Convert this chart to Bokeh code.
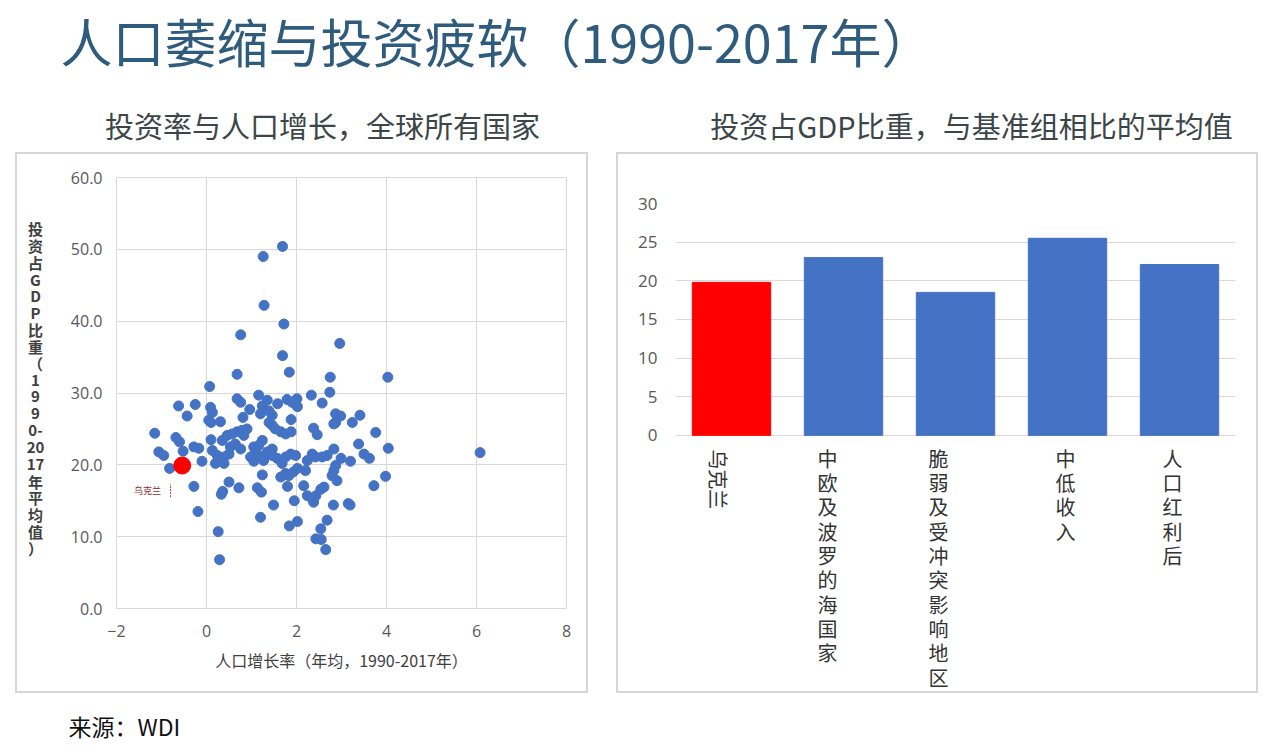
import math
from bokeh.plotting import figure
from bokeh.models import Range1d, FactorRange, FixedTicker, Spacer, ColumnDataSource
from bokeh.layouts import column, row
from bokeh.core.properties import value
from bokeh.embed import file_html
from bokeh.resources import INLINE

CJK = "Noto Sans CJK SC"
LAT = "Open Sans"

# ---------------- data ----------------
main_title = "人口萎缩与投资疲软（1990-2017年）"
left_title = "投资率与人口增长，全球所有国家"
right_title = "投资占GDP比重，与基准组相比的平均值"
source_note = "来源：WDI"

scatter_xlabel = "人口增长率（年均，1990-2017年）"
scatter_ylabel_lines = ["投", "资", "占", "G", "D", "P", "比", "重", "（", "1", "9", "9",
                        "0-", "20", "17", "年", "平", "均", "值", "）"]

# population growth (annual avg %, 1990-2017)
pop_growth = [
    1.69, 1.26, 1.28, 1.72, 0.76, 2.96, 1.69, 1.84, 0.68, 2.75, 4.03, 0.07, 2.74, 2.33, 1.16,
    -0.62, -0.25, -0.43, 0.09, 0.13, 0.05, 0.10, 0.31, 0.68, 0.76, 0.81, 0.96, 1.35, 1.24, 1.20,
    1.39, 1.46, 1.39, 1.46, 1.53, 1.58, 1.79, 1.90, 2.01, 2.02, 1.88, 1.65, 1.76, 1.88, 2.57,
    2.87, 2.98, 2.87, 2.83, 3.24, 3.41, 2.38, 2.46, 3.76,
    -1.15, -0.68, -0.60, -1.06, -0.95, -0.82, -0.52, -0.28, -0.17, -0.10, 0.10, 0.13, 0.24, 0.20,
    0.31, 0.39, 0.35, 0.46, 0.57, 0.68, 0.79, 0.90, 0.83, 0.64, 0.53, 0.50, 0.76, 0.39, 1.24,
    1.05, 1.16, 1.09, 0.98, 1.05, 1.16, 1.27, 1.35, 1.46, 1.46, 1.57, 1.68, 1.76, 1.87, 1.98,
    1.24, 0.50, 1.65, 1.76, -0.28, -0.19, 0.36, 0.33, 0.72, 0.26, 0.29, 1.13, 1.22, 1.49, 1.20,
    1.83, 1.93, 2.02, 1.80, 1.95, 1.84, 2.02, 2.20, 2.16, 2.24, 2.35, 2.43, 2.54, 2.61, 2.38,
    2.54, 2.68, 2.43, 2.55, 2.65, 2.82, 3.15, 3.19, 2.24, 2.35, 2.42, 2.57, 2.68, 2.83, 2.99,
    3.20, 2.87, 2.83, 2.79, 2.90, 3.38, 3.50, 3.62, 4.04, 3.98, 3.72, 6.08,
]
# investment share of GDP (1990-2017 avg %)
invest_share = [
    50.4, 49.0, 42.2, 39.6, 38.1, 36.9, 35.2, 32.9, 32.6, 32.2, 32.2, 30.9, 30.1, 29.7, 29.7,
    28.2, 28.4, 26.8, 28.0, 27.3, 26.2, 25.9, 26.0, 29.2, 28.7, 26.6, 27.7, 29.0, 28.2, 27.1,
    27.5, 26.9, 25.9, 25.5, 25.0, 28.5, 29.1, 28.7, 29.2, 28.1, 26.3, 24.6, 24.3, 24.6, 28.6,
    27.1, 26.8, 25.9, 25.7, 25.9, 26.9, 25.1, 24.2, 24.5,
    24.4, 23.8, 23.2, 21.8, 21.3, 19.5, 21.9, 22.5, 22.3, 20.5, 23.5, 22.0, 21.3, 20.2,
    20.6, 20.2, 23.4, 24.1, 24.3, 24.6, 24.8, 25.0, 24.1, 22.9, 22.5, 21.5, 22.2, 21.1, 23.4,
    22.5, 22.7, 21.8, 21.1, 20.5, 21.3, 20.6, 21.8, 22.2, 21.3, 20.9, 20.2, 21.1, 21.5, 21.3,
    18.6, 17.6, 18.3, 18.8, 17.0, 13.5, 16.3, 15.9, 16.8, 10.7, 6.8, 16.8, 16.2, 14.4, 12.7,
    18.5, 19.0, 19.5, 17.0, 15.0, 11.5, 12.1, 19.2, 17.1, 15.7, 15.3, 15.7, 16.6, 16.9, 14.8,
    11.1, 12.3, 9.7, 9.6, 8.2, 14.4, 14.6, 14.4, 20.6, 21.5, 21.1, 21.1, 21.3, 22.2, 20.9,
    20.5, 19.9, 19.2, 18.5, 17.8, 22.9, 21.5, 20.9, 22.3, 18.4, 17.1, 21.7,
]
ukraine_name = "乌克兰"
ukraine_growth = [-0.54]
ukraine_invest = [19.9]

scatter_x_ticks = [-2, 0, 2, 4, 6, 8]
scatter_y_ticks = [0, 10, 20, 30, 40, 50, 60]

bar_groups = ["乌克兰", "中欧及波罗的海国家", "脆弱及受冲突影响地区", "中低收入", "人口红利后"]
bar_values = [19.8, 23.0, 18.5, 25.5, 22.1]
bar_y_ticks = [0, 5, 10, 15, 20, 25, 30]

# ---------------- styles ----------------
BLUE = "#4472C4"
RED = "#FF0000"
GRID = "#d9d9d9"
TICK = "#595959"
BOX = {"outline": "2px solid #d6d6d6", "outline-offset": "-2px"}
label_dx = [-13, -16, -17, -2, -7]   # horizontal nudge of each category label (px)
LABEL_PITCH = 24.3
YLAB_PITCH = 16.84
H = 541


def blank(fig):
    fig.axis.visible = False
    fig.grid.visible = False
    fig.outline_line_color = None


# ---------------- header ----------------
hdr = figure(width=1270, height=152, x_range=Range1d(0, 1270), y_range=Range1d(152, 0),
             output_backend="svg", toolbar_location=None, min_border=0)
blank(hdr)
hdr.text(x=[60], y=[40], text=[main_title], text_font=value(CJK), text_font_size="52px",
         text_color="#2F5B7C", text_baseline="middle", text_align="left")
hdr.text(x=[322, 971], y=[124, 124], text=[left_title, right_title], text_font=value(CJK),
         text_font_size="29px", text_color="#3B4649", text_baseline="middle", text_align="center")

# ---------------- scatter: y-label strip ----------------
ylab = figure(width=43, height=H, x_range=Range1d(0, 43), y_range=Range1d(431, 0),
              output_backend="svg", toolbar_location=None,
              min_border_left=0, min_border_right=0, min_border_top=25, min_border_bottom=85)
blank(ylab)
ylab.border_fill_color = None
ylab.background_fill_color = None
ylab.text(x=[20] * len(scatter_ylabel_lines),
          y=[51 + YLAB_PITCH * k for k in range(len(scatter_ylabel_lines))],
          text=scatter_ylabel_lines, text_font=value(CJK), text_font_size="15px",
          text_font_style="bold", text_color="#404040", text_align="center",
          text_baseline="middle")

# ---------------- scatter ----------------
sc = figure(width=530, height=H, x_range=Range1d(-2, 8), y_range=Range1d(0, 60),
            output_backend="svg", toolbar_location=None,
            min_border_left=58, min_border_right=22, min_border_top=25, min_border_bottom=85)
sc.border_fill_color = None
sc.background_fill_color = None
sc.outline_line_color = GRID
sc.grid.grid_line_color = GRID
sc.xaxis.ticker = FixedTicker(ticks=scatter_x_ticks)
sc.yaxis.ticker = FixedTicker(ticks=scatter_y_ticks)
sc.yaxis.major_label_overrides = {t: f"{t:.1f}" for t in scatter_y_ticks}
for ax in (sc.xaxis, sc.yaxis):
    ax.axis_line_color = GRID
    ax.major_tick_line_color = None
    ax.minor_tick_line_color = None
    ax.major_tick_out = 0
    ax.major_tick_in = 0
    ax.major_label_text_font = LAT
    ax.major_label_text_font_size = "16px"
    ax.major_label_text_color = TICK
sc.yaxis.major_label_standoff = 14
sc.xaxis.major_label_standoff = 16
sc.xaxis.axis_label = scatter_xlabel
sc.xaxis.axis_label_text_font = CJK
sc.xaxis.axis_label_text_font_size = "16px"
sc.xaxis.axis_label_text_font_style = "normal"
sc.xaxis.axis_label_text_color = "#404040"
sc.xaxis.axis_label_standoff = 8

sc.scatter(pop_growth, invest_share, size=10, color=BLUE)
sc.scatter(ukraine_growth, ukraine_invest, size=17, color=RED)
sc.text(x=[ukraine_growth[0] - 0.77], y=[ukraine_invest[0] - 3.5], text=[ukraine_name],
        text_font=value(CJK), text_font_size="9px", text_color="#8B2A2A",
        text_align="center", text_baseline="middle")
sc.segment(x0=[ukraine_growth[0] - 0.26], x1=[ukraine_growth[0] - 0.26],
           y0=[ukraine_invest[0] - 4.4], y1=[ukraine_invest[0] - 2.6],
           line_color="#C04040", line_width=1, line_dash="2 1")

scatter_box = column(row(ylab, sc), styles=BOX)

# ---------------- bars ----------------
br = figure(width=642, height=H, x_range=FactorRange(factors=bar_groups), y_range=Range1d(-33.4, 30),
            output_backend="svg", toolbar_location=None,
            min_border_left=59, min_border_right=23, min_border_top=51, min_border_bottom=0)
br.border_fill_color = None
br.background_fill_color = None
br.outline_line_color = None
br.xaxis.visible = False
br.xgrid.visible = False
br.ygrid.grid_line_color = GRID
br.yaxis.ticker = FixedTicker(ticks=bar_y_ticks)
bar_colors = [RED if g == ukraine_name else BLUE for g in bar_groups]
br.vbar(x=bar_groups, top=bar_values, width=0.7, color=bar_colors)
br.yaxis.axis_line_color = None
br.yaxis.major_tick_line_color = None
br.yaxis.minor_tick_line_color = None
br.yaxis.major_tick_out = 0
br.yaxis.major_tick_in = 0
br.yaxis.major_label_text_font = LAT
br.yaxis.major_label_text_font_size = "17px"
br.yaxis.major_label_text_color = TICK
br.yaxis.major_label_standoff = 18

lab = dict(x=[], y=[], t=[], dx=[], dy=[])
for gi, g in enumerate(bar_groups):
    if g == ukraine_name:
        continue
    for k, ch in enumerate(g):
        lab["x"].append(g)
        lab["y"].append(0)
        lab["t"].append(ch)
        lab["dx"].append(label_dx[gi])
        lab["dy"].append(23 + LABEL_PITCH * k)
br.text(x="x", y="y", text="t", x_offset="dx", y_offset="dy", source=ColumnDataSource(lab),
        text_font=value(CJK), text_font_size="20px", text_color="#333333",
        text_align="center", text_baseline="middle")
uk_i = bar_groups.index(ukraine_name)
br.text(x=[ukraine_name], y=[0], text=[ukraine_name], angle=-math.pi / 2,
        x_offset=label_dx[uk_i], y_offset=14, text_font=value(CJK), text_font_size="20px",
        text_color="#333333", text_align="left", text_baseline="middle")

bar_box = column(br, styles=BOX)

# ---------------- footer ----------------
ftr = figure(width=1270, height=58, x_range=Range1d(0, 1270), y_range=Range1d(58, 0),
             output_backend="svg", toolbar_location=None, min_border=0)
blank(ftr)
ftr.text(x=[68], y=[32], text=[source_note], text_font=value(CJK), text_font_size="23px",
         text_color="#111111", text_baseline="middle", text_align="left")

layout = column(hdr,
                row(Spacer(width=15, height=H), scatter_box, Spacer(width=28, height=H), bar_box),
                ftr)

open("out.html", "w").write(file_html(layout, INLINE))
